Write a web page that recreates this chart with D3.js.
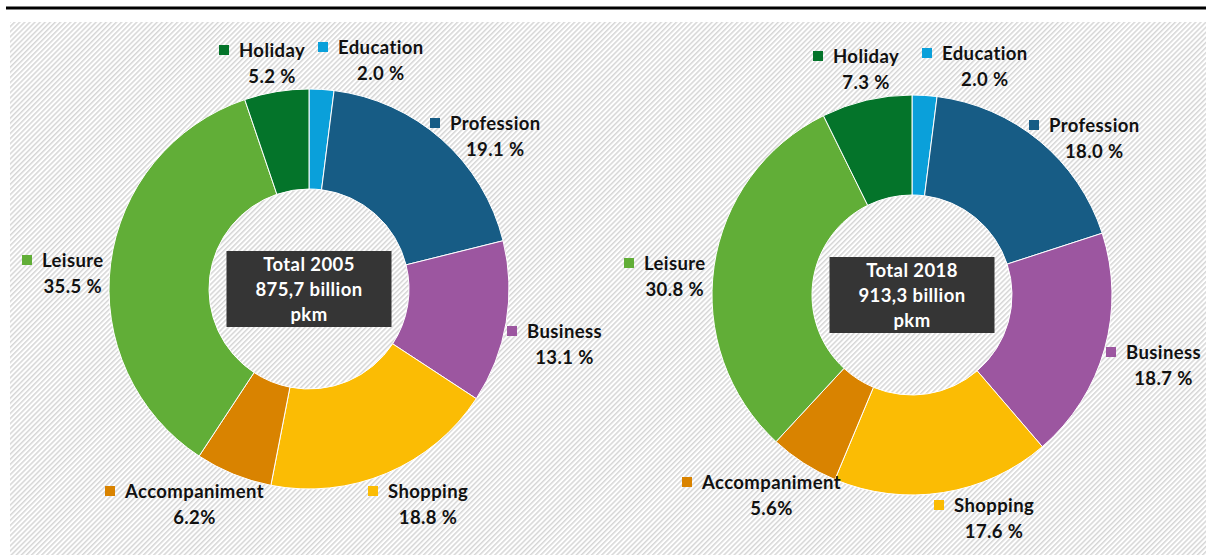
<!DOCTYPE html>
<html>
<head>
<meta charset="utf-8">
<script src="https://cdn.jsdelivr.net/npm/d3@7"></script>
<style>
  body { margin: 0; background: #fff; }
  text { font-family: Lato, "Open Sans", sans-serif; font-weight: bold; letter-spacing: 0.4px; }
</style>
</head>
<body>
<svg id="chart" width="1206" height="555"></svg>
<script>
// data
const categories = ["Education", "Profession", "Business", "Shopping", "Accompaniment", "Leisure", "Holiday"];
const values2005 = [2.0, 19.1, 13.1, 18.8, 6.2, 35.5, 5.2];
const values2018 = [2.0, 18.0, 18.7, 17.6, 5.6, 30.8, 7.3];
const pctLabels2005 = ["2.0 %", "19.1 %", "13.1 %", "18.8 %", "6.2%", "35.5 %", "5.2 %"];
const pctLabels2018 = ["2.0 %", "18.0 %", "18.7 %", "17.6 %", "5.6%", "30.8 %", "7.3 %"];
const totalTitles = ["Total 2005", "Total 2018"];
const totalValues = ["875,7 billion", "913,3 billion"];
const totalUnit = "pkm";

const colors = ["#0aa0da", "#175c85", "#9c56a0", "#fbbc04", "#d98300", "#61ae37", "#04742a"];

// layout: legend anchor (square left x, line centre y) for each category
const labelPos2005 = [[318, 47], [430, 123], [507, 331], [368, 491], [105, 491], [22, 260], [219, 50]];
const labelPos2018 = [[922, 53], [1029, 125], [1106, 352], [934, 505], [682, 482], [624, 263], [813, 56]];

const fontSize = "18.5px";

const svg = d3.select("#chart");

// hatched background
const defs = svg.append("defs");
defs.append("pattern")
    .attr("id", "hatch")
    .attr("patternUnits", "userSpaceOnUse")
    .attr("width", 3.6)
    .attr("height", 3.6)
    .attr("patternTransform", "rotate(45)")
    .append("rect")
    .attr("width", 1.5)
    .attr("height", 3.6)
    .attr("fill", "#d6d6d6");

svg.append("rect")
    .attr("x", 6).attr("y", 6.5)
    .attr("width", 1200).attr("height", 3)
    .attr("fill", "#000");

svg.append("rect")
    .attr("x", 10).attr("y", 22)
    .attr("width", 1196).attr("height", 533)
    .attr("fill", "url(#hatch)");

const pie = d3.pie().sort(null).value(d => d);
const arc = d3.arc().innerRadius(100).outerRadius(200);
const color = d3.scaleOrdinal().domain(categories).range(colors);

function donut(cx, cy, values, pctLabels, labelPos, i) {
    const g = svg.append("g").attr("transform", `translate(${cx},${cy})`);

    g.selectAll("path")
        .data(pie(values))
        .enter()
        .append("path")
        .attr("d", arc)
        .attr("fill", (d, j) => color(categories[j]))
        .attr("stroke", "#fff")
        .attr("stroke-width", 1);

    // total box
    g.append("rect")
        .attr("x", -82.5).attr("y", -38)
        .attr("width", 165).attr("height", 76)
        .attr("fill", "#353535");
    [totalTitles[i], totalValues[i], totalUnit].forEach((t, k) => {
        g.append("text")
            .attr("x", 0)
            .attr("y", (k - 1) * 25 + 6.5)
            .attr("text-anchor", "middle")
            .attr("fill", "#fff")
            .style("font-size", fontSize)
            .text(t);
    });

    // labels
    categories.forEach((name, j) => {
        const [lx, ly] = labelPos[j];
        const lg = svg.append("g");
        lg.append("rect")
            .attr("x", lx).attr("y", ly - 5)
            .attr("width", 10).attr("height", 10)
            .attr("fill", color(name));
        const t = lg.append("text")
            .attr("x", lx + 20)
            .attr("y", ly + 6.5)
            .attr("fill", "#111")
            .style("font-size", fontSize)
            .text(name);
        const w = t.node().getComputedTextLength();
        lg.append("text")
            .attr("x", lx + 20 + w / 2)
            .attr("y", ly + 32.5)
            .attr("text-anchor", "middle")
            .attr("fill", "#111")
            .style("font-size", fontSize)
            .text(pctLabels[j]);
    });
}

donut(309, 289, values2005, pctLabels2005, labelPos2005, 0);
donut(912, 295, values2018, pctLabels2018, labelPos2018, 1);
</script>
</body>
</html>
